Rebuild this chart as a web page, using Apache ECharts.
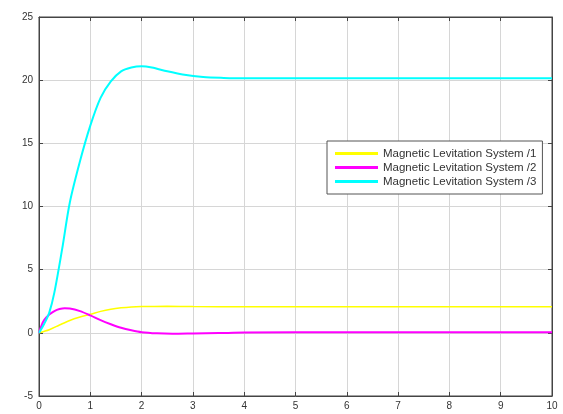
<!DOCTYPE html>
<html><head><meta charset="utf-8">
<script src="https://cdn.jsdelivr.net/npm/echarts@6/dist/echarts.min.js"></script>
<style>html,body{margin:0;padding:0;background:#fff}#c{width:563px;height:414px}</style>
</head><body><div id="c"></div>
<script>
var seriesNames = ['Magnetic Levitation System /1','Magnetic Levitation System /2','Magnetic Levitation System /3'];
var xTicks = [0,1,2,3,4,5,6,7,8,9,10];
var yTicks = [-5,0,5,10,15,20,25];

var x1 = [0,0.2,0.4,0.6,0.8,1.0,1.2,1.4,1.6,1.8,2.0,2.5,3.0,4,6,8,10];
var y1 = [0,0.25,0.62,0.98,1.25,1.47,1.7,1.87,1.98,2.05,2.08,2.1,2.08,2.07,2.07,2.07,2.07];

var x2 = [0,0.05,0.1,0.2,0.3,0.4,0.5,0.6,0.8,1.0,1.2,1.4,1.6,1.8,2.0,2.3,2.6,3.0,3.5,4,6,8,10];
var y2 = [0,0.6,1.0,1.45,1.72,1.88,1.95,1.93,1.72,1.38,1.0,0.68,0.4,0.2,0.05,-0.04,-0.07,-0.05,-0.02,0.02,0.05,0.05,0.05];

var x3 = [0,0.1,0.2,0.3,0.45,0.6,0.8,1.0,1.2,1.4,1.6,1.8,2.0,2.2,2.5,2.8,3.2,3.6,4,6,8,10];
var y3 = [0,0.7,1.6,3.2,6.6,10.3,13.6,16.4,18.6,19.9,20.7,21.0,21.1,21.0,20.7,20.45,20.25,20.18,20.15,20.15,20.15,20.15];

function pairs(xs, ys){ return xs.map(function(x,i){ return [x, ys[i]]; }); }

var chart = echarts.init(document.getElementById('c'));
var lab = {color:'#333',fontSize:10,fontFamily:'Liberation Sans'};
function ax(extra){
  return Object.assign({
    type:'value',
    axisLine:{show:true,onZero:false,lineStyle:{color:'#444',width:1}},
    axisTick:{show:true,inside:true,length:4,lineStyle:{color:'#444'}},
    splitLine:{show:true,lineStyle:{color:'#d6d6d6',width:1}},
    axisLabel:Object.assign({}, lab)
  }, extra);
}
chart.setOption({
  animation:false,
  backgroundColor:'#fff',
  grid:{left:39,right:11,top:17,bottom:18,show:true,borderColor:'#444',borderWidth:1,backgroundColor:'#fff'},
  xAxis:[
    ax({min:xTicks[0],max:xTicks[xTicks.length-1],interval:1,axisLabel:Object.assign({margin:5},lab)}),
    ax({position:'top',min:xTicks[0],max:xTicks[xTicks.length-1],interval:1,axisLabel:{show:false},splitLine:{show:false}})
  ],
  yAxis:[
    ax({min:yTicks[0],max:yTicks[yTicks.length-1],interval:5,axisLabel:Object.assign({margin:6},lab)}),
    ax({position:'right',min:yTicks[0],max:yTicks[yTicks.length-1],interval:5,axisLabel:{show:false},splitLine:{show:false}})
  ],
  legend:{
    orient:'vertical',left:327,top:141,itemGap:1,itemWidth:43,itemHeight:3,icon:'rect',
    backgroundColor:'#fff',borderColor:'#555',borderWidth:1,padding:[6,6,6,8],
    textStyle:{fontSize:11.5,color:'#333',fontFamily:'Liberation Sans',lineHeight:13},
    data:seriesNames
  },
  series:[
    {name:seriesNames[0],type:'line',smooth:0.3,symbol:'none',data:pairs(x1,y1),lineStyle:{color:'#ffff00',width:1.5},itemStyle:{color:'#ffff00'}},
    {name:seriesNames[1],type:'line',smooth:0.3,symbol:'none',data:pairs(x2,y2),lineStyle:{color:'#ff00ff',width:2},itemStyle:{color:'#ff00ff'}},
    {name:seriesNames[2],type:'line',smooth:0.3,symbol:'none',data:pairs(x3,y3),lineStyle:{color:'#00ffff',width:2},itemStyle:{color:'#00ffff'}}
  ]
});
</script></body></html>
